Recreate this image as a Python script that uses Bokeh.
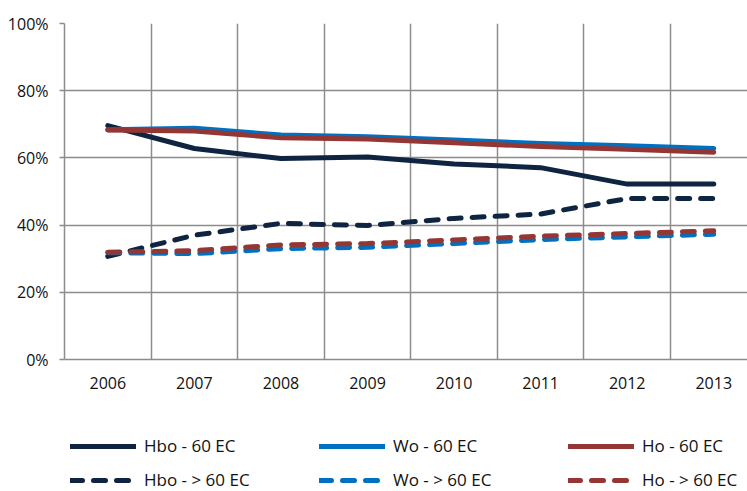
from bokeh.plotting import figure
from bokeh.layouts import column
from bokeh.models import (Range1d, FixedTicker, PrintfTickFormatter, Legend, LegendItem,
                          ColumnDataSource)
from bokeh.embed import file_html
from bokeh.resources import INLINE

years = ["2006", "2007", "2008", "2009", "2010", "2011", "2012", "2013"]
hbo_60 = [69.6, 62.8, 59.8, 60.3, 58.2, 57.1, 52.2, 52.2]
wo_60 = [68.4, 68.8, 66.8, 66.3, 65.3, 64.3, 63.6, 62.8]
ho_60 = [68.3, 68.0, 66.0, 65.6, 64.5, 63.4, 62.6, 61.7]
hbo_gt60 = [30.7, 37.0, 40.5, 39.9, 42.0, 43.3, 47.9, 47.9]
wo_gt60 = [31.8, 31.5, 33.0, 33.4, 34.5, 35.7, 36.5, 37.3]
ho_gt60 = [31.9, 32.4, 34.1, 34.5, 35.6, 36.7, 37.5, 38.3]
y_ticks = [0, 20, 40, 60, 80, 100]

NAVY = "#0e2441"
BLUE = "#0070c0"
RED = "#943634"
GRID = "#8c8c8c"
TEXT = "#111111"
FONT = "Open Sans"
DASH = "12 11"

xs = list(range(len(years)))

p = figure(frame_width=683, frame_height=336, output_backend="svg", toolbar_location=None,
           x_range=Range1d(-0.5, -0.5 + 683 / 86.57), y_range=Range1d(0, 100),
           min_border_left=64, min_border_right=0, min_border_top=23,
           min_border_bottom=46)
p.outline_line_color = None
p.background_fill_color = "white"
p.border_fill_color = "white"

series = [
    ("Hbo - 60 EC", hbo_60, NAVY, "solid"),
    ("Wo - 60 EC", wo_60, BLUE, "solid"),
    ("Ho - 60 EC", ho_60, RED, "solid"),
    ("Hbo - > 60 EC", hbo_gt60, NAVY, DASH),
    ("Wo - > 60 EC", wo_gt60, BLUE, DASH),
    ("Ho - > 60 EC", ho_gt60, RED, DASH),
]

# legend strip below the chart (its ranges keep the proxy lines out of view)
lg = figure(frame_width=747, frame_height=86, output_backend="svg", toolbar_location=None,
            x_range=Range1d(1000, 1001), y_range=Range1d(1000, 1001),
            x_axis_type=None, y_axis_type=None,
            min_border_left=0, min_border_right=0, min_border_top=0, min_border_bottom=0)
lg.outline_line_color = None
lg.xgrid.visible = False
lg.ygrid.visible = False

items = []
for name, vals, col, dash in series:
    src = ColumnDataSource(dict(x=xs, y=vals))
    p.line("x", "y", source=src, line_color=col, line_width=5,
           line_dash=dash, line_cap="round", line_join="round")
    proxy = lg.line("x", "y", source=src, line_color=col, line_width=5,
                    line_dash=dash, line_cap="round", line_join="round")
    items.append(LegendItem(label=name, renderers=[proxy]))

# axes
p.yaxis.ticker = FixedTicker(ticks=y_ticks)
p.yaxis.formatter = PrintfTickFormatter(format="%d%%")
p.yaxis.major_tick_out = 5
p.yaxis.major_tick_in = 0
p.yaxis.minor_tick_line_color = None
p.yaxis.major_tick_line_color = GRID
p.yaxis.major_tick_line_width = 1.5
p.yaxis.axis_line_color = GRID
p.yaxis.axis_line_width = 1.5
p.yaxis.major_label_standoff = 11
p.yaxis.major_label_text_font = FONT
p.yaxis.major_label_text_font_size = "16px"
p.yaxis.major_label_text_color = TEXT

p.xaxis.ticker = FixedTicker(ticks=xs)
p.xaxis.major_label_overrides = {i: y for i, y in enumerate(years)}
p.xaxis.major_tick_line_color = None
p.xaxis.minor_tick_line_color = None
p.xaxis.axis_line_color = GRID
p.xaxis.axis_line_width = 1.5
p.xaxis.major_label_standoff = 11
p.xaxis.major_label_text_font = FONT
p.xaxis.major_label_text_font_size = "16px"
p.xaxis.major_label_text_color = TEXT

p.ygrid.ticker = FixedTicker(ticks=y_ticks)
p.ygrid.grid_line_color = GRID
p.ygrid.grid_line_width = 1.5
p.xgrid.ticker = FixedTicker(ticks=[i + 0.5 for i in xs])
p.xgrid.grid_line_color = GRID
p.xgrid.grid_line_width = 1.5

legend = Legend(items=items, ncols=3, orientation="horizontal",
                location=(70, 0), margin=0, padding=0,
                glyph_width=66, glyph_height=20, label_height=20,
                label_width=164, label_standoff=8, spacing=11,
                border_line_color=None, background_fill_alpha=0,
                label_text_font=FONT, label_text_font_size="17px",
                label_text_color=TEXT)
lg.add_layout(legend, "center")

layout = column(p, lg, spacing=0)
open("out.html", "w").write(file_html(layout, INLINE))
